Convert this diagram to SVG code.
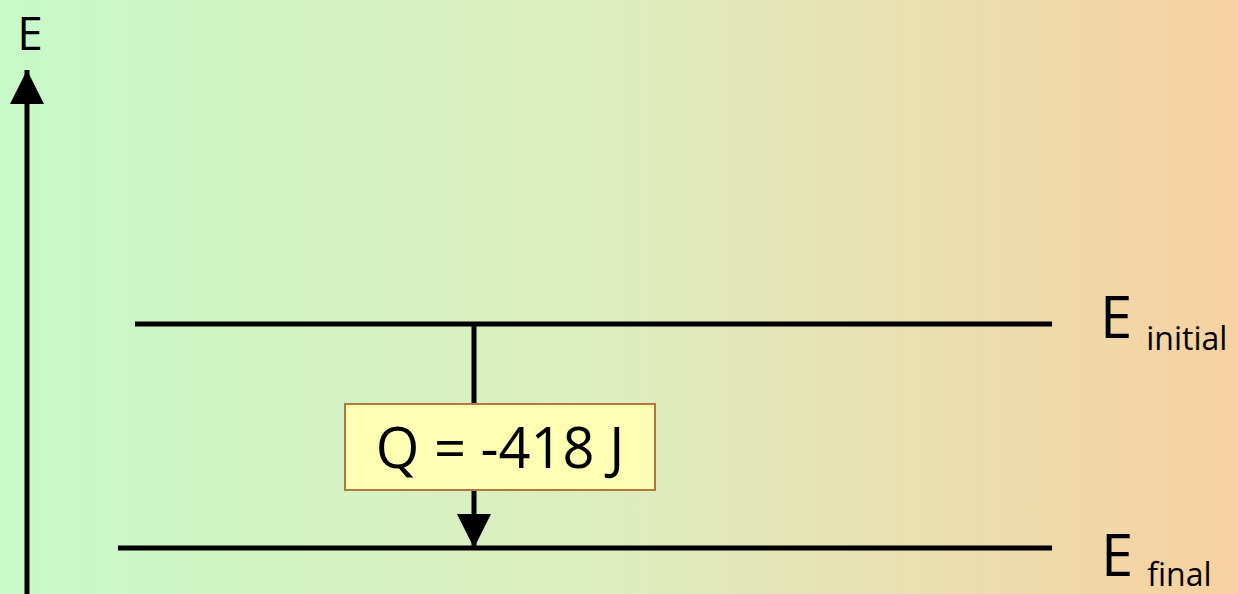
<svg xmlns="http://www.w3.org/2000/svg" width="1238" height="594" viewBox="0 0 1238 594">
<defs>
<linearGradient id="bg" x1="0" y1="0" x2="1" y2="0">
<stop offset="0" stop-color="#C8F9C8"/>
<stop offset="0.5" stop-color="#DEEDBE"/>
<stop offset="1" stop-color="#F7D1A1"/>
</linearGradient>
<marker id="ah" markerUnits="userSpaceOnUse" markerWidth="34" markerHeight="34" viewBox="0 0 34 34" refX="34" refY="17" orient="auto">
<path d="M0,0 L34,17 L0,34 Z" fill="#000"/>
</marker>
<style>
.ln{stroke:#000;stroke-width:5;fill:none}
.t{font-family:"Comic Sans MS","Open Sans","DejaVu Sans",sans-serif;fill:#000;font-weight:500}
</style>
</defs>
<rect width="1238" height="594" fill="url(#bg)"/>
<g id="axis">
<line class="ln" x1="27" y1="594" x2="27" y2="70" marker-end="url(#ah)"/>
<text class="t" x="30" y="50" font-size="46" text-anchor="middle">E</text>
</g>
<g id="initial">
<line class="ln" x1="135" y1="324" x2="1052" y2="324"/>
<text class="t" x="1100" y="338" font-size="58">E<tspan font-size="32" dx="14" dy="12">initial</tspan></text>
</g>
<g id="final">
<line class="ln" x1="118" y1="548" x2="1052" y2="548"/>
<text class="t" x="1101" y="576" font-size="58">E<tspan font-size="32" dx="14" dy="10">final</tspan></text>
</g>
<g id="connectors">
<line class="ln" x1="474" y1="324" x2="474" y2="548" marker-end="url(#ah)"/>
</g>
<g id="q-label">
<rect x="345" y="404" width="310" height="86" fill="#FFFFB3" stroke="#B07A3C" stroke-width="2"/>
<text class="t" x="500" y="468" font-size="56" text-anchor="middle">Q = -418 J</text>
</g>
</svg>
